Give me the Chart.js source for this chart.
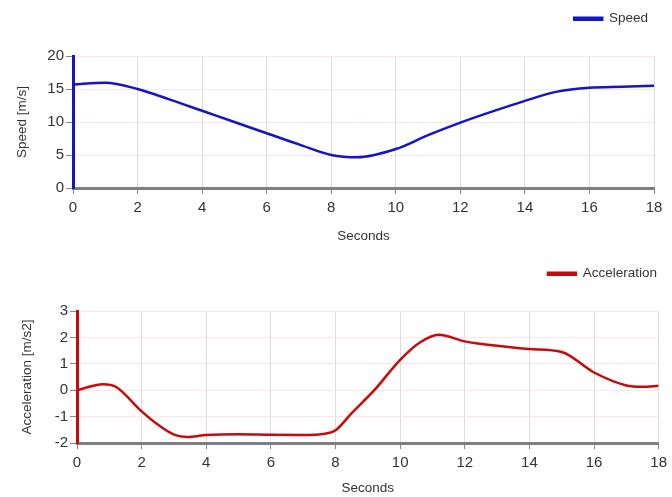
<!DOCTYPE html>
<html>
<head>
<meta charset="utf-8">
<script src="https://cdn.jsdelivr.net/npm/chart.js@4.4.1/dist/chart.umd.min.js"></script>
<style>
  html, body { margin: 0; padding: 0; background: #ffffff; }
  .box { position: absolute; left: 0; width: 672px; }
  #top { top: 0; height: 250px; }
  #bottom { top: 250px; height: 247px; }
</style>
</head>
<body>
<div class="box" id="top"><canvas id="speedChart"></canvas></div>
<div class="box" id="bottom"><canvas id="accChart"></canvas></div>
<script>
// Tiempo (s) y velocidad (m/s)
const speedTime = [0, 1, 2, 3, 4, 5, 6, 7, 8, 8.8, 10, 11, 12, 13, 14, 15, 16, 17, 18];
const speedValues = [15.7, 15.95, 15.0, 13.4, 11.7, 10.0, 8.3, 6.6, 5.0, 4.65, 5.9, 8.0, 9.9, 11.6, 13.2, 14.6, 15.2, 15.35, 15.5];

// Tiempo (s) y aceleración (m/s2)
const accTime = [0, 0.8, 1.2, 2, 2.5, 3, 3.4, 4, 5, 6, 7, 7.6, 8, 8.5, 9.2, 10, 10.6, 11.2, 12, 13, 14, 15, 16, 17, 17.5, 18];
const accValues = [0, 0.23, 0.13, -0.8, -1.3, -1.68, -1.77, -1.7, -1.67, -1.69, -1.7, -1.66, -1.52, -0.87, 0.0, 1.15, 1.8, 2.1, 1.85, 1.68, 1.56, 1.45, 0.67, 0.18, 0.13, 0.17];

const secondsTicks = { min: 0, max: 18, step: 2 };
const speedTicks = { min: 0, max: 20, step: 5 };
const accTicks = { min: -2, max: 3, step: 1 };

const FONT = 'Liberation Sans, Arial, sans-serif';

// Deja un hueco extra bajo la leyenda, como en el original
function legendGap(extra) {
  return {
    id: 'legendGap',
    beforeInit(chart) {
      const fit = chart.legend.fit;
      chart.legend.fit = function () {
        fit.call(this);
        this.height += extra;
      };
    }
  };
}

function makeChart(canvasId, label, xs, ys, color, yTitle, yRange, lay) {
  const ctx = document.getElementById(canvasId).getContext('2d');
  return new Chart(ctx, {
    type: 'line',
    data: {
      datasets: [{
        label: label,
        data: xs.map((x, i) => ({ x: x, y: ys[i] })),
        borderColor: color,
        backgroundColor: color,
        borderWidth: 2.5,
        pointRadius: 0,
        cubicInterpolationMode: 'monotone',
        fill: false
      }]
    },
    plugins: [legendGap(lay.legendExtra)],
    options: {
      responsive: true,
      maintainAspectRatio: false,
      animation: false,
      layout: { padding: { left: 0, right: lay.right, top: lay.top, bottom: 0 } },
      plugins: {
        legend: {
          display: true,
          position: 'top',
          align: 'end',
          labels: {
            boxWidth: 28,
            boxHeight: 2,
            padding: lay.legendPad,
            color: '#333333',
            font: { family: FONT, size: 13.5 }
          }
        },
        tooltip: { enabled: false }
      },
      scales: {
        x: {
          type: 'linear',
          min: secondsTicks.min,
          max: secondsTicks.max,
          afterFit: s => { s.height = lay.xHeight; },
          ticks: {
            stepSize: secondsTicks.step,
            color: '#333333',
            font: { family: FONT, size: 15 },
            padding: 5
          },
          grid: { color: '#dcdcdc', lineWidth: 1, tickColor: '#888888', tickLength: 6 },
          border: { color: '#7f7f7f', width: 3 },
          title: { display: true, text: 'Seconds', color: '#333333', font: { family: FONT, size: 13.5 }, padding: { top: 0, bottom: lay.xTitlePad } }
        },
        y: {
          min: yRange.min,
          max: yRange.max,
          afterFit: s => { s.width = lay.yWidth; },
          ticks: {
            stepSize: yRange.step,
            color: '#333333',
            font: { family: FONT, size: 15 },
            padding: 2
          },
          grid: { color: '#fbe4e7', lineWidth: 1, tickColor: '#888888', tickLength: 7 },
          border: { color: color, width: 3 },
          title: { display: true, text: yTitle, color: '#333333', font: { family: FONT, size: 13.5 }, padding: { top: lay.yTitlePad, bottom: 0 } }
        }
      }
    }
  });
}

makeChart('speedChart', 'Speed', speedTime, speedValues, '#1414c8', 'Speed [m/s]', speedTicks,
  { right: 18, top: 6, legendPad: 6, legendExtra: 20.5, xHeight: 62, yWidth: 73, xTitlePad: 6, yTitlePad: 14 });
makeChart('accChart', 'Acceleration', accTime, accValues, '#c80a0a', 'Acceleration [m/s2]', accTicks,
  { right: 12, top: 14, legendPad: 3, legendExtra: 20.5, xHeight: 54, yWidth: 77, xTitlePad: 1, yTitlePad: 19 });
</script>
</body>
</html>
